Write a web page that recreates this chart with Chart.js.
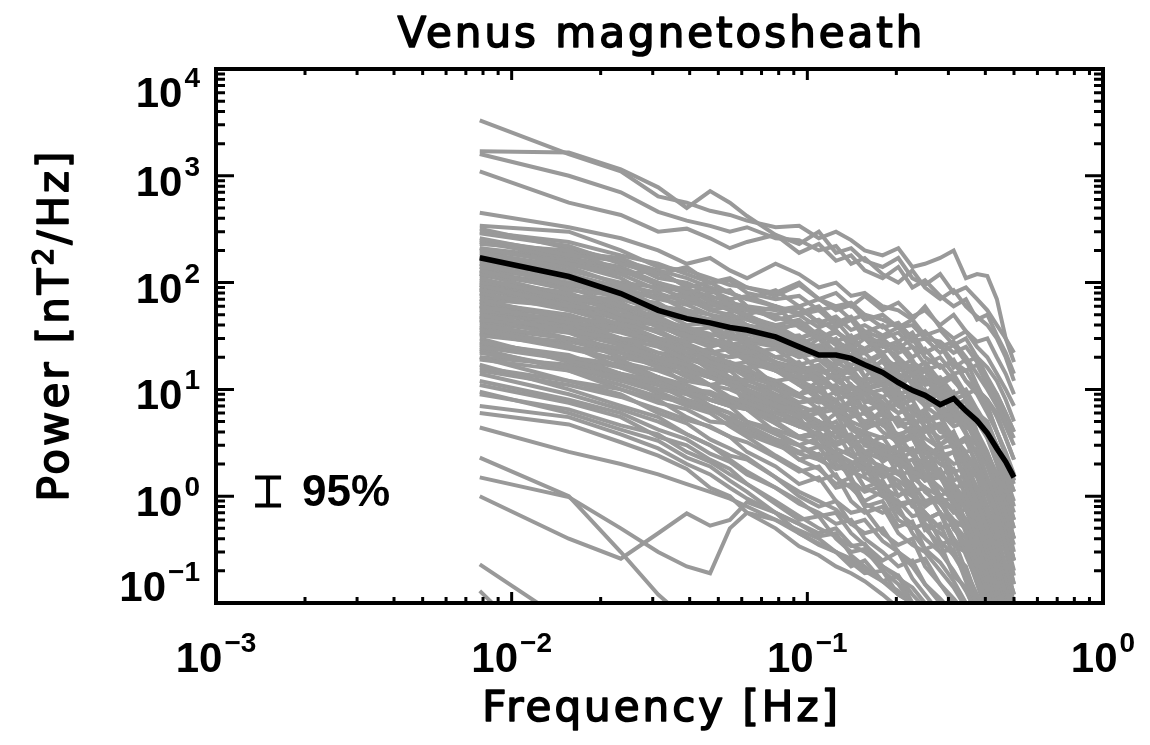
<!DOCTYPE html>
<html>
<head>
<meta charset="utf-8">
<script src="https://cdn.jsdelivr.net/npm/chart.js@4"></script>
<style>
  html, body { margin: 0; padding: 0; background: #fff; }
  canvas { display: block; }
</style>
</head>
<body>
<canvas id="psd" width="1150" height="745"></canvas>
<script>
// frequency bins (Hz) shared by every spectrum
const freq = [0.0078, 0.0156, 0.0234, 0.0313, 0.0391, 0.0469, 0.0547, 0.0625, 0.0781, 0.0938,
  0.1094, 0.125, 0.1406, 0.1563, 0.1797, 0.2031, 0.2266, 0.25, 0.2813, 0.3125,
  0.3438, 0.375, 0.4063, 0.4375, 0.4688, 0.5];

// average spectrum (black)
const meanPower = [171, 114, 79, 55, 46, 42, 38, 36, 31, 25, 21, 21, 19.5, 17, 14.4, 11.6, 9.8, 8.8, 7.2, 8.2, 6.3, 5.1, 3.9, 2.8, 2.1, 1.5];

// individual spectra (grey), nT^2/Hz
const grey01 = [3300, 1600, 1100, 640, 560, 470, 430, 380, 330, 340, 260, 300, 250, 200, 180, 210, 140, 150, 170, 200, 110, 120, 115, 70, 30, 18];
const grey02 = [1700, 1650, 1150, 780, 500, 720, 560, 420, 280, 230, 300, 190, 210, 160, 140, 170, 110, 95, 120, 80, 90, 70, 55, 40, 30, 22];
const grey03 = [1600, 1000, 700, 460, 380, 340, 300, 330, 260, 250, 200, 220, 150, 170, 120, 100, 130, 90, 70, 85, 60, 48, 40, 30, 20, 12];
const grey04 = [1100, 560, 430, 300, 320, 260, 210, 240, 280, 190, 230, 160, 180, 130, 110, 140, 90, 105, 75, 60, 70, 45, 50, 32, 22, 14];
const grey05 = [450, 330, 260, 200, 150, 170, 130, 110, 150, 120, 90, 100, 75, 80, 60, 55, 45, 60, 38, 30, 35, 25, 20, 14, 10, 7];
const grey06 = [340, 300, 200, 140, 130, 110, 95, 90, 80, 100, 70, 60, 65, 50, 45, 38, 40, 30, 28, 22, 25, 18, 12, 9, 6, 4];
const grey07 = [290, 220, 150, 120, 95, 85, 70, 75, 60, 50, 55, 40, 45, 35, 30, 34, 25, 22, 26, 18, 15, 17, 11, 8, 5, 3.5];
const grey08 = [260, 180, 160, 110, 100, 80, 85, 60, 55, 60, 42, 38, 45, 30, 28, 24, 30, 20, 16, 19, 12, 10, 8, 6, 3.5, 2.2];
const grey09 = [230, 200, 130, 100, 80, 90, 60, 55, 48, 40, 45, 35, 28, 32, 22, 26, 18, 15, 17, 12, 9, 10, 7, 4, 2.5, 1.4];
const grey10 = [210, 150, 120, 85, 90, 65, 55, 50, 60, 38, 30, 36, 25, 22, 27, 18, 14, 16, 11, 13, 8, 6, 5, 3, 1.8, 1.1];
const grey11 = [190, 140, 95, 80, 65, 60, 70, 48, 40, 45, 32, 28, 24, 30, 20, 16, 19, 12, 10, 8, 9, 5, 4, 2.4, 1.5, 0.9];
const grey12 = [170, 150, 110, 70, 75, 55, 50, 45, 36, 30, 34, 26, 20, 18, 22, 14, 12, 15, 9, 7, 8, 5, 3.5, 2.2, 1.2, 0.7];
const grey13 = [160, 120, 80, 75, 55, 50, 42, 38, 40, 28, 24, 20, 25, 16, 14, 17, 11, 9, 10, 7, 5, 6, 3.5, 2, 1.1, 0.6];
const grey14 = [150, 95, 90, 60, 50, 45, 48, 35, 30, 32, 22, 20, 17, 19, 13, 11, 14, 8, 9, 6, 4.5, 3.8, 2.5, 1.6, 0.9, 0.5];
const grey15 = [140, 110, 70, 65, 45, 40, 36, 40, 28, 24, 26, 18, 15, 16, 11, 12, 8, 9, 6.5, 5, 5.5, 3.2, 2.2, 1.4, 0.7, 0.4];
const grey16 = [130, 85, 75, 50, 48, 38, 32, 30, 26, 28, 19, 17, 20, 13, 11, 9, 10, 7, 5.5, 6, 3.8, 3, 1.9, 1.1, 0.6, 0.35];
const grey17 = [120, 90, 60, 55, 40, 42, 30, 28, 25, 20, 22, 16, 14, 12, 14, 9, 8, 9.5, 6, 4.5, 5, 3, 2, 1.2, 0.6, 0.3];
const grey18 = [110, 70, 65, 45, 38, 32, 35, 26, 20, 22, 15, 13, 15, 10, 8.5, 10, 6, 5, 5.5, 3.5, 2.6, 2.8, 1.5, 0.9, 0.5, 0.25];
const grey19 = [100, 80, 50, 42, 36, 30, 26, 22, 24, 17, 14, 16, 11, 9, 10, 7, 5.5, 6.5, 4, 3.6, 2.5, 1.8, 1.2, 0.7, 0.35, 0.18];
const grey20 = [95, 60, 55, 38, 32, 28, 24, 26, 18, 15, 17, 12, 10, 11, 7.5, 6, 7, 4.5, 3.5, 4, 2.4, 1.6, 1, 0.55, 0.3, 0.15];
const grey21 = [85, 70, 45, 40, 30, 25, 28, 20, 16, 18, 12, 10, 11, 8, 6.5, 7.5, 5, 4, 4.5, 2.8, 2, 1.5, 0.8, 0.45, 0.22, 0.12];
const grey22 = [80, 55, 48, 34, 28, 30, 22, 19, 15, 13, 14, 10, 8, 9, 6, 5, 5.5, 3.5, 2.8, 3, 1.8, 1.2, 0.7, 0.4, 0.2, 0.1];
const grey23 = [75, 60, 40, 36, 26, 22, 20, 22, 15, 12, 10, 11, 8, 6.5, 7, 4.8, 4, 4.4, 2.6, 2, 2.2, 1.1, 0.65, 0.35, 0.17, 0.09];
const grey24 = [70, 45, 42, 30, 27, 20, 18, 16, 17, 11, 9.5, 8, 9, 6, 5, 5.5, 3.6, 3, 2.4, 2.6, 1.5, 0.9, 0.5, 0.28, 0.14, 0.07];
const grey25 = [65, 50, 35, 28, 22, 24, 17, 15, 12, 13, 8.5, 7.5, 6.5, 7, 4.6, 3.8, 4.2, 2.6, 2, 1.7, 1.2, 0.7, 0.42, 0.22, 0.12, 0.06];
const grey26 = [60, 42, 38, 26, 24, 18, 16, 13, 11, 9, 10, 6.5, 5.5, 6, 4, 3.2, 3.5, 2.2, 1.6, 1.8, 1, 0.6, 0.35, 0.2, 0.1, 0.05];
const grey27 = [55, 45, 30, 25, 19, 17, 15, 16, 10, 8.5, 7.5, 8, 5, 4.4, 4.8, 3, 2.5, 2.7, 1.6, 1.3, 0.9, 0.5, 0.3, 0.16, 0.08, 0.04];
const grey28 = [50, 35, 30, 22, 20, 16, 13, 12, 10, 7.5, 8, 6, 4.5, 4, 3.5, 3.8, 2.4, 2, 1.5, 1.1, 0.75, 0.42, 0.25, 0.13, 0.07, 0.04];
const grey29 = [45, 38, 26, 20, 17, 14, 15, 11, 8.5, 7, 6, 6.5, 4.2, 3.6, 3, 2.6, 2.8, 1.6, 1.2, 0.9, 0.6, 0.36, 0.2, 0.11, 0.06, 0.03];
const grey30 = [40, 30, 24, 19, 15, 13, 11, 10, 7, 6.5, 5, 4.4, 4.8, 3, 2.5, 2.2, 1.8, 1.9, 1, 0.75, 0.5, 0.3, 0.17, 0.09, 0.05, 0.03];
const grey31 = [36, 25, 22, 16, 14, 11, 10, 8.5, 7, 5.5, 6, 4, 3.5, 3.8, 2.4, 2, 1.7, 1.5, 1.6, 0.9, 0.6, 0.4, 0.22, 0.12, 0.07, 0.04];
const grey32 = [32, 26, 18, 15, 12, 11, 8.5, 7.5, 6, 5, 4.2, 4.5, 3, 2.6, 2.2, 2.4, 1.5, 1.2, 1, 0.7, 0.75, 0.4, 0.25, 0.14, 0.08, 0.05];
const grey33 = [28, 20, 17, 13, 10, 9.5, 8, 6.5, 5.5, 4.5, 3.8, 3.2, 3.4, 2.2, 1.9, 1.6, 1.7, 1.1, 0.85, 0.6, 0.5, 0.32, 0.18, 0.1, 0.06, 0.03];
const grey34 = [25, 19, 14, 12, 9.5, 8, 7, 6.5, 4.8, 3.6, 4, 2.8, 2.4, 2.6, 1.7, 1.4, 1.1, 1.2, 0.7, 0.55, 0.4, 0.25, 0.15, 0.09, 0.05, 0.03];
const grey35 = [22, 16, 13, 10, 9, 7, 6, 5, 4.2, 3.5, 3, 2.5, 2.1, 1.8, 1.9, 1.2, 1, 0.85, 0.9, 0.5, 0.35, 0.22, 0.13, 0.08, 0.05, 0.03];
const grey36 = [19, 15, 11, 8.5, 7.5, 6.5, 5.2, 4.6, 3.4, 3, 2.4, 2.6, 1.7, 1.5, 1.2, 1.3, 0.8, 0.7, 0.5, 0.55, 0.3, 0.18, 0.11, 0.07, 0.04];
const grey37 = [16, 12, 10, 7.5, 6.5, 5, 4.8, 3.8, 3, 2.5, 2.2, 1.8, 1.9, 1.2, 1, 0.85, 0.9, 0.55, 0.45, 0.35, 0.3, 0.16, 0.1, 0.06, 0.04];
const grey38 = [14, 9, 6.5, 5, 3.8, 3, 2.4, 2.2, 1.5, 1.1, 0.9, 0.75, 0.55, 0.6, 0.38, 0.3, 0.24, 0.26, 0.15, 0.11, 0.08, 0.06, 0.04];
const grey39 = [12, 8, 6, 4.2, 3.4, 2.5, 2.1, 1.6, 1.2, 0.85, 0.7, 0.55, 0.6, 0.4, 0.3, 0.22, 0.25, 0.15, 0.11, 0.08, 0.06, 0.04];
const grey40 = [9, 6.5, 4.6, 3.8, 2.6, 2.1, 1.6, 1.3, 0.9, 0.65, 0.5, 0.42, 0.34, 0.36, 0.22, 0.17, 0.14, 0.1, 0.08, 0.06, 0.04];
const grey41 = [7, 5.5, 3.8, 2.8, 2.0, 1.6, 1.2, 0.95, 0.7, 0.45, 0.36, 0.3, 0.24, 0.19, 0.2, 0.12, 0.1, 0.07, 0.05, 0.04];
const grey42 = [6, 4.7, 3.2, 2.4, 1.8, 1.2, 1.0, 0.7, 0.5, 0.34, 0.28, 0.22, 0.19, 0.16, 0.12, 0.09, 0.07, 0.05, 0.04];
const grey43 = [250, 190, 170, 120, 140, 100, 110, 90, 75, 95, 70, 80, 60, 75, 55, 65, 48, 55, 40, 50, 35, 28, 30, 20, 14, 9];
const grey44 = [200, 160, 120, 130, 90, 100, 80, 70, 85, 60, 70, 55, 62, 45, 50, 38, 45, 32, 36, 26, 30, 20, 16, 12, 8, 5];
const grey45 = [130, 110, 90, 70, 80, 60, 65, 55, 50, 58, 42, 48, 36, 40, 32, 38, 28, 30, 22, 26, 18, 20, 13, 9, 6, 4];
const grey46 = [100, 75, 70, 55, 50, 45, 52, 40, 35, 42, 30, 34, 28, 24, 30, 22, 25, 17, 20, 14, 15, 10, 8, 5.5, 3.5, 2.2];
const grey47 = [70, 60, 45, 40, 38, 33, 30, 34, 26, 22, 25, 19, 21, 16, 18, 13, 15, 11, 12, 8, 9, 6, 4.5, 3, 2, 1.3];
const grey48 = [45, 40, 30, 28, 25, 22, 24, 18, 17, 14, 16, 12, 13, 10, 11, 8, 9, 7, 7.5, 5, 5.5, 3.5, 2.5, 1.6, 1, 0.6];
const grey49 = [90, 55, 40, 26, 22, 15, 13, 9, 7, 4.5, 5, 3, 3.4, 2, 1.6, 2, 1.1, 0.8, 1, 0.5, 0.6, 0.3, 0.2, 0.1, 0.06];
const grey50 = [60, 38, 30, 18, 15, 11, 12, 7, 5, 5.5, 3, 2.6, 2, 2.4, 1.2, 1, 1.3, 0.6, 0.7, 0.4, 0.3, 0.18, 0.1, 0.05];
const grey51 = [48, 30, 20, 17, 11, 9, 7, 6.5, 4, 3, 3.5, 2, 1.6, 1.9, 1, 0.8, 0.9, 0.5, 0.35, 0.4, 0.2, 0.12, 0.07, 0.04];
const grey52 = [38, 26, 16, 12, 10, 7, 6, 4, 3.2, 2.2, 2.5, 1.5, 1.2, 0.9, 1.1, 0.6, 0.5, 0.55, 0.3, 0.2, 0.13, 0.08, 0.05];
const grey53 = [30, 18, 14, 9, 7, 6, 4.5, 3.6, 2.4, 1.8, 1.4, 1.6, 0.9, 0.7, 0.8, 0.45, 0.35, 0.3, 0.2, 0.14, 0.09, 0.05];
const grey54 = [24, 15, 10, 8, 5.5, 4.4, 3.6, 2.6, 1.9, 1.3, 1.5, 0.9, 0.7, 0.75, 0.45, 0.35, 0.4, 0.22, 0.15, 0.1, 0.06, 0.04];
const grey55 = [20, 12, 9, 6, 4.8, 3.4, 2.8, 2.3, 1.5, 1, 0.8, 0.9, 0.55, 0.45, 0.5, 0.3, 0.22, 0.15, 0.1, 0.07, 0.04];
const grey56 = [17, 10, 7, 5.5, 3.8, 3, 2.2, 1.7, 1.2, 0.9, 0.65, 0.7, 0.45, 0.35, 0.25, 0.3, 0.17, 0.12, 0.08, 0.05];
const grey57 = [11, 7.5, 5.5, 3.6, 3, 2.2, 1.8, 1.3, 0.85, 0.6, 0.65, 0.4, 0.3, 0.32, 0.2, 0.15, 0.1, 0.08, 0.05];
const grey58 = [9.5, 6, 4.2, 3.3, 2.3, 1.9, 1.4, 1.1, 0.7, 0.55, 0.42, 0.45, 0.28, 0.22, 0.16, 0.18, 0.1, 0.07, 0.05];
const grey59 = [150, 120, 85, 60, 55, 40, 44, 30, 26, 20, 24, 14, 16, 10, 12, 7, 8, 5, 6, 3, 3.6, 1.8, 1.2, 0.6, 0.3, 0.15];
const grey60 = [120, 75, 60, 48, 36, 38, 25, 22, 18, 12, 14, 9, 11, 6, 7.5, 4.5, 5, 3, 2.2, 2.6, 1.3, 0.8, 0.45, 0.25, 0.12, 0.06];
const grey61 = [105, 80, 55, 40, 30, 26, 28, 18, 15, 11, 8, 9.5, 6, 5, 5.8, 3.4, 2.6, 3, 1.6, 1.2, 0.8, 0.5, 0.3, 0.15, 0.08, 0.04];
const grey62 = [88, 65, 44, 34, 26, 20, 17, 18, 11, 9, 6.5, 7, 4.5, 3.8, 2.6, 3, 1.8, 1.4, 1.6, 0.8, 0.55, 0.32, 0.18, 0.1, 0.05];
const grey63 = [66, 48, 36, 28, 20, 18, 13, 11, 9, 6, 6.8, 4, 3.4, 2.5, 2.8, 1.6, 1.3, 0.9, 1, 0.5, 0.35, 0.2, 0.12, 0.07, 0.04];
const grey64 = [52, 40, 28, 20, 18, 13, 11, 8, 6.5, 5, 3.6, 4, 2.4, 2, 1.5, 1.7, 1, 0.7, 0.5, 0.55, 0.28, 0.16, 0.1, 0.05];
const grey65 = [42, 34, 22, 18, 13, 11, 8, 7, 4.8, 3.5, 3.8, 2.2, 1.8, 2, 1.1, 0.9, 0.65, 0.7, 0.38, 0.28, 0.18, 0.1, 0.06];
const grey66 = [34, 24, 19, 13, 11, 8, 7, 5, 3.8, 3, 2.2, 2.4, 1.4, 1.1, 1.25, 0.7, 0.55, 0.4, 0.3, 0.32, 0.16, 0.09, 0.05];
const grey67 = [27, 21, 14, 11, 8, 7, 5, 4.2, 3.4, 2.2, 1.8, 1.3, 1.5, 0.85, 0.7, 0.8, 0.45, 0.32, 0.24, 0.16, 0.1, 0.06];
const grey68 = [180, 130, 100, 90, 70, 55, 60, 45, 40, 30, 36, 28, 32, 22, 26, 20, 15, 18, 12, 14, 9, 6, 4, 2.5, 1.5, 0.8];
const grey69 = [240, 170, 140, 100, 85, 75, 65, 60, 45, 50, 38, 44, 30, 34, 25, 28, 20, 24, 16, 18, 12, 9, 6, 4, 2.6, 1.6];
const grey70 = [115, 100, 70, 58, 50, 42, 36, 40, 30, 26, 32, 22, 25, 18, 21, 15, 17, 12, 13, 9, 10, 6.5, 4.5, 3, 1.8, 1.1];
const grey71 = [78, 58, 50, 40, 32, 30, 26, 28, 20, 17, 19, 14, 16, 11, 13, 9, 10, 7, 7.5, 5, 5.5, 3.5, 2.4, 1.5, 0.9, 0.5];
const grey72 = [58, 50, 36, 30, 27, 22, 20, 21, 15, 12, 13, 9.5, 11, 7.5, 8.5, 6, 6.6, 4.4, 4.8, 3, 3.3, 2, 1.3, 0.8, 0.45, 0.25];
const grey73 = [33, 28, 22, 18, 16, 13, 12, 12.5, 9, 7.5, 8.5, 6, 6.5, 4.5, 5, 3.4, 3.8, 2.5, 2.7, 1.7, 1.8, 1.1, 0.7, 0.4, 0.22, 0.12];
const grey74 = [20, 17, 13, 11, 9.5, 8, 7, 7.5, 5.5, 4.5, 5, 3.5, 3.8, 2.6, 3, 2, 2.2, 1.4, 1.5, 0.95, 1, 0.6, 0.38, 0.22, 0.12, 0.07];
const grey75 = [300, 240, 180, 150, 120, 100, 105, 80, 70, 75, 55, 60, 45, 50, 38, 42, 30, 35, 25, 28, 20, 14, 10, 7, 4.5, 3];
const grey76 = [140, 100, 80, 60, 52, 45, 40, 33, 28, 22, 30, 18, 24, 13, 19, 10, 14, 7, 11, 5, 7, 3.2, 2, 1, 0.5, 0.25];
const grey77 = [95, 70, 56, 44, 35, 30, 26, 24, 18, 16, 11, 15, 8, 12, 6.5, 9, 4.5, 6, 3, 4, 2, 1.2, 0.6, 0.3, 0.15];
const grey78 = [62, 48, 40, 30, 25, 20, 18, 14, 12, 9, 12, 6, 8, 4.5, 6.5, 3.5, 4.6, 2.2, 3, 1.4, 1.6, 0.8, 0.45, 0.22, 0.1];
const grey79 = [44, 36, 28, 22, 18, 14, 13, 10, 8, 6.5, 4.5, 6, 3.2, 4.2, 2.3, 3, 1.6, 2, 1, 1.2, 0.55, 0.3, 0.15, 0.08];
const grey80 = [210, 170, 130, 95, 80, 70, 58, 50, 38, 40, 30, 22, 28, 17, 21, 12, 16, 9, 12, 6, 8, 4, 2.6, 1.5, 0.8, 0.4];
const grey81 = [125, 95, 75, 62, 50, 44, 38, 30, 26, 30, 20, 24, 15, 18, 11, 14, 8, 10, 6, 7, 4, 2.4, 1.4, 0.8, 0.4, 0.2];
const grey82 = [85, 62, 50, 40, 33, 30, 26, 22, 16, 18, 11, 14, 9, 10, 6, 7.5, 4.5, 5.5, 3, 3.6, 1.8, 1, 0.55, 0.3, 0.15];
const grey83 = [55, 42, 34, 27, 22, 19, 16, 15, 11, 9, 10.5, 6, 7.5, 4.2, 5.2, 3, 3.6, 2, 2.4, 1.2, 1.3, 0.6, 0.32, 0.16, 0.08];
const grey84 = [38, 30, 24, 19, 15, 13, 11, 9.5, 7, 6, 4.2, 5, 3, 3.4, 2.1, 2.6, 1.4, 1.6, 0.9, 0.95, 0.45, 0.24, 0.12, 0.06];
const grey85 = [26, 20, 16, 13, 10, 9, 7.5, 6.5, 5, 3.6, 4, 2.4, 2.8, 1.6, 1.9, 1, 1.2, 0.6, 0.7, 0.35, 0.3, 0.15, 0.08];
const grey86 = [175, 120, 90, 70, 62, 50, 46, 40, 34, 28, 25, 30, 20, 22, 15, 18, 11, 13, 8, 9.5, 5.5, 3.4, 2.2, 1.3, 0.7, 0.4];
const grey87 = [48, 34, 26, 20, 16, 13, 12, 9, 7.5, 6, 6.6, 4.2, 4.8, 3, 3.6, 2.2, 2.6, 1.5, 1.8, 1, 1.1, 0.55, 0.3, 0.15, 0.07];
const grey88 = [23, 16, 12, 9.5, 7.5, 6.5, 5.4, 4.6, 3.4, 2.6, 2.9, 1.8, 2, 1.2, 1.4, 0.8, 0.9, 0.48, 0.55, 0.28, 0.22, 0.11, 0.06];
const grey89 = [15, 11, 8.5, 6.5, 5.2, 4.5, 3.6, 3.2, 2.3, 1.7, 1.9, 1.2, 1.3, 0.8, 0.9, 0.52, 0.58, 0.32, 0.36, 0.18, 0.14, 0.07];
const grey90 = [320, 210, 160, 130, 110, 90, 80, 70, 60, 52, 60, 42, 48, 34, 40, 28, 34, 22, 26, 16, 19, 11, 7, 4, 2.4, 1.4];
const low01 = [4.4, 2.6, 2.0, 1.6, 1.3, 1.1, 0.95, 0.8, 0.6, 0.48, 0.4, 0.3, 0.26, 0.2, 0.16, 0.13, 0.1, 0.08, 0.06, 0.04];
const low02 = [2.3, 1.0, 0.3, 0.12, 0.07];
const low03 = [1.5, 0.98, 0.5, 0.3, 0.22, 0.19, 0.5, 0.7, 0.6, 0.45, 0.35, 0.3, 0.22, 0.25, 0.16, 0.12, 0.1, 0.07, 0.05, 0.04];
const low04 = [1.0, 0.4, 0.26, 0.45, 0.69, 0.53, 0.6, 0.88, 0.7, 0.55, 0.45, 0.5, 0.35, 0.3, 0.22, 0.18, 0.12, 0.09, 0.07, 0.05, 0.04];
const low05 = [0.23, 0.064];
const low06 = [0.13, 0.02];

const greySpectra = [grey01, grey02, grey03, grey04, grey05, grey06, grey07, grey08, grey09, grey10,
  grey11, grey12, grey13, grey14, grey15, grey16, grey17, grey18, grey19, grey20,
  grey21, grey22, grey23, grey24, grey25, grey26, grey27, grey28, grey29, grey30,
  grey31, grey32, grey33, grey34, grey35, grey36, grey37, grey38, grey39, grey40,
  grey41, grey42, grey43, grey44, grey45, grey46, grey47, grey48, grey49, grey50,
  grey51, grey52, grey53, grey54, grey55, grey56, grey57, grey58, grey59, grey60,
  grey61, grey62, grey63, grey64, grey65, grey66, grey67, grey68, grey69, grey70,
  grey71, grey72, grey73, grey74, grey75, grey76, grey77, grey78, grey79, grey80,
  grey81, grey82, grey83, grey84, grey85, grey86, grey87, grey88, grey89, grey90,
  low01, low02, low03, low04, low05, low06];

// 95% confidence bar
const ciFreq = [0.0015];
const ciRange = [0.82, 1.5];

// axes
const xTicks = [0.001, 0.01, 0.1, 1];
const xTickExp = ["\u22123", "\u22122", "\u22121", "0"];
const yTicks = [0.1, 1, 10, 100, 1000, 10000];
const yTickExp = ["\u22121", "0", "1", "2", "3", "4"];

const toPoints = vals => vals.map((v, i) => ({ x: freq[i], y: v }));

const NUM_FONT = '"Liberation Sans", Arial, sans-serif';
const TXT_FONT = '"DejaVu Sans", sans-serif';

function drawPower(ctx, exp, x, cy, align) {
  ctx.font = `bold 42px ${NUM_FONT}`;
  const wb = ctx.measureText("10").width;
  ctx.font = `bold 28px ${NUM_FONT}`;
  const we = ctx.measureText(exp).width;
  const total = wb + 2 + we;
  const left = align === "right" ? x - total : x - total / 2;
  ctx.textAlign = "left";
  ctx.textBaseline = "alphabetic";
  ctx.font = `bold 42px ${NUM_FONT}`;
  ctx.fillText("10", left, cy + 15);
  ctx.font = `bold 28px ${NUM_FONT}`;
  ctx.fillText(exp, left + wb + 2, cy - 5);
}

// fill + thin outline gives the medium stroke weight of the plot font
function heavyText(ctx, text, x, y) {
  ctx.fillText(text, x, y);
  ctx.strokeText(text, x, y);
}

const idlAxes = {
  id: "idlAxes",
  afterDatasetsDraw(chart) {
    const { ctx, chartArea: a, scales: { x, y } } = chart;
    ctx.save();
    ctx.fillStyle = "#000";
    ctx.strokeStyle = "#000";

    // frame
    ctx.lineWidth = 4;
    ctx.strokeRect(a.left, a.top, a.right - a.left, a.bottom - a.top);

    // inward ticks, major and minor
    ctx.lineWidth = 3;
    ctx.beginPath();
    for (let d = -3; d < 0; d++) {
      for (let m = 1; m <= 9; m++) {
        const px = x.getPixelForValue(m * Math.pow(10, d));
        const len = m === 1 ? 11 : 6;
        ctx.moveTo(px, a.bottom); ctx.lineTo(px, a.bottom - len);
        ctx.moveTo(px, a.top); ctx.lineTo(px, a.top + len);
      }
    }
    for (let d = -1; d < 4; d++) {
      for (let m = 1; m <= 9; m++) {
        const py = y.getPixelForValue(m * Math.pow(10, d));
        const len = m === 1 ? 18 : 9;
        ctx.moveTo(a.left, py); ctx.lineTo(a.left + len, py);
        ctx.moveTo(a.right, py); ctx.lineTo(a.right - len, py);
      }
    }
    ctx.stroke();

    // 95% confidence bar
    const cx = x.getPixelForValue(ciFreq[0]);
    const y0 = y.getPixelForValue(ciRange[0]);
    const y1 = y.getPixelForValue(ciRange[1]);
    ctx.lineWidth = 4;
    ctx.beginPath();
    ctx.moveTo(cx, y0); ctx.lineTo(cx, y1);
    ctx.moveTo(cx - 13, y0); ctx.lineTo(cx + 13, y0);
    ctx.moveTo(cx - 13, y1); ctx.lineTo(cx + 13, y1);
    ctx.stroke();
    ctx.font = `bold 44px ${NUM_FONT}`;
    ctx.textAlign = "left";
    ctx.textBaseline = "middle";
    ctx.fillText("95%", cx + 34, (y0 + y1) / 2 + 2);

    // tick labels
    yTicks.forEach((v, i) => {
      let cy = y.getPixelForValue(v) + 5;
      cy = Math.max(a.top + 23, Math.min(a.bottom - 17, cy));
      drawPower(ctx, yTickExp[i], 200, cy, "right");
    });
    xTicks.forEach((v, i) => {
      drawPower(ctx, xTickExp[i], x.getPixelForValue(v), a.bottom + 54, "center");
    });

    // titles
    ctx.letterSpacing = "3px";
    ctx.lineWidth = 1.6;
    ctx.lineJoin = "round";
    ctx.textBaseline = "alphabetic";
    ctx.textAlign = "center";
    ctx.font = `42px ${TXT_FONT}`;
    const midX = (a.left + a.right) / 2;
    heavyText(ctx, "Venus magnetosheath", midX + 2, 47);
    heavyText(ctx, "Frequency [Hz]", midX + 2, 721);

    // y title with superscript
    ctx.translate(68, 325);
    ctx.rotate(-Math.PI / 2);
    const p1 = "Power [nT", p2 = "2", p3 = "/Hz]";
    ctx.font = `42px ${TXT_FONT}`;
    const w1 = ctx.measureText(p1).width, w3 = ctx.measureText(p3).width;
    ctx.font = `28px ${TXT_FONT}`;
    const w2 = ctx.measureText(p2).width;
    const sx = -(w1 + w2 + w3) / 2;
    ctx.textAlign = "left";
    ctx.font = `42px ${TXT_FONT}`;
    heavyText(ctx, p1, sx, 0);
    ctx.font = `28px ${TXT_FONT}`;
    heavyText(ctx, p2, sx + w1, -15);
    ctx.font = `42px ${TXT_FONT}`;
    heavyText(ctx, p3, sx + w1 + w2, 0);
    ctx.restore();
  }
};

const datasets = [{
  data: toPoints(meanPower),
  borderColor: "#000",
  borderWidth: 5.5,
  pointRadius: 0,
  clip: 0
}].concat(greySpectra.map(s => ({
  data: toPoints(s),
  borderColor: "#999999",
  borderWidth: 4,
  pointRadius: 0,
  clip: 0
})));

new Chart(document.getElementById("psd").getContext("2d"), {
  type: "line",
  data: { datasets },
  options: {
    responsive: false,
    animation: false,
    events: [],
    layout: { padding: { left: 216, top: 69, right: 47, bottom: 142 } },
    plugins: {
      legend: { display: false },
      tooltip: { enabled: false },
      title: { display: false }
    },
    scales: {
      x: { type: "logarithmic", display: false, min: 0.001, max: 1 },
      y: { type: "logarithmic", display: false, min: 0.1, max: 10000 }
    }
  },
  plugins: [idlAxes]
});
</script>
</body>
</html>
